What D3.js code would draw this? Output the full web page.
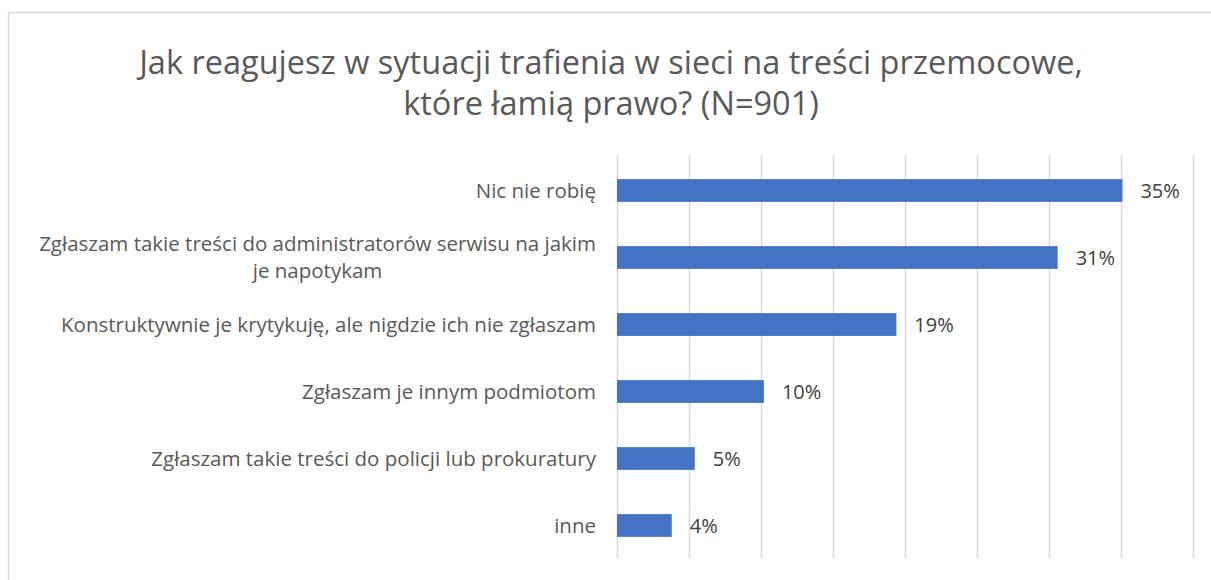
<!DOCTYPE html>
<html>
<head>
<meta charset="utf-8">
<script src="https://cdn.jsdelivr.net/npm/d3@7"></script>
<style>
  body { margin: 0; background: #fff; }
  text { font-family: "Open Sans", sans-serif; }
</style>
</head>
<body>
<div id="chart"></div>
<script>
var categories = [
    "Nic nie robię",
    "Zgłaszam takie treści do administratorów serwisu na jakim|je napotykam",
    "Konstruktywnie je krytykuję, ale nigdzie ich nie zgłaszam",
    "Zgłaszam je innym podmiotom",
    "Zgłaszam takie treści do policji lub prokuratury",
    "inne"
];
var values = [0.351, 0.306, 0.194, 0.102, 0.054, 0.038];
var tickValues = [0, 0.05, 0.10, 0.15, 0.20, 0.25, 0.30, 0.35, 0.40];
var titleLines = ["Jak reagujesz w sytuacji trafienia w sieci na treści przemocowe,", "które łamią prawo? (N=901)"];

var width = 1211, height = 580;

var svg = d3.select("#chart").append("svg")
    .attr("width", width)
    .attr("height", height);

// chart frame
svg.append("rect")
    .attr("x", 8.5).attr("y", 12.5)
    .attr("width", width + 10).attr("height", height + 10)
    .attr("fill", "#fff")
    .attr("stroke", "#d9d9d9")
    .attr("stroke-width", 1.5);

svg.selectAll(".title")
    .data(titleLines)
    .enter().append("text")
    .attr("class", "title")
    .attr("x", 611)
    .attr("y", function(d, i) { return 74 + i * 41; })
    .attr("text-anchor", "middle")
    .attr("fill", "#595959")
    .style("font-size", "32.5px")
    .text(function(d) { return d; });

var x = d3.scaleLinear()
    .domain([0, 0.40])
    .range([617, 1193]);

var y = d3.scaleBand()
    .domain(categories)
    .range([157, 559])
    .paddingInner(0.66)
    .paddingOuter(0.33);

// vertical gridlines
svg.append("g")
    .attr("class", "grid")
    .attr("transform", "translate(0,155)")
    .call(d3.axisBottom(x).tickValues(tickValues).tickSize(403).tickFormat(""))
    .call(function(g) { g.select(".domain").remove(); })
    .selectAll("line")
    .attr("stroke", "#d9d9d9")
    .attr("stroke-width", 1.5);

svg.selectAll(".bar")
    .data(values)
    .enter().append("rect")
    .attr("class", "bar")
    .attr("x", x(0))
    .attr("y", function(d, i) { return y(categories[i]); })
    .attr("width", function(d) { return x(d) - x(0); })
    .attr("height", y.bandwidth())
    .attr("fill", "#4472c4");

svg.selectAll(".value")
    .data(values)
    .enter().append("text")
    .attr("class", "value")
    .attr("x", function(d) { return x(d) + 18; })
    .attr("y", function(d, i) { return y(categories[i]) + y.bandwidth() / 2 + 7; })
    .attr("fill", "#404040")
    .style("font-size", "20px")
    .text(function(d) { return Math.round(d * 100) + "%"; });

// category labels, wrapped ones are centred inside a right-aligned block
var labels = svg.selectAll(".cat")
    .data(categories)
    .enter().append("text")
    .attr("class", "cat")
    .attr("fill", "#595959")
    .style("font-size", "20.5px");

labels.each(function(d) {
    var t = d3.select(this);
    var lines = d.split("|");
    var cy = y(d) + y.bandwidth() / 2;
    var lineH = 27;
    var top = cy - (lines.length - 1) * lineH / 2 + 7;
    lines.forEach(function(line, i) {
        t.append("tspan")
            .attr("y", top + i * lineH)
            .text(line);
    });
    var maxW = 0;
    t.selectAll("tspan").each(function() { maxW = Math.max(maxW, this.getComputedTextLength()); });
    var right = 596;
    t.selectAll("tspan")
        .attr("x", lines.length > 1 ? right - maxW / 2 : right)
        .attr("text-anchor", lines.length > 1 ? "middle" : "end");
});
</script>
</body>
</html>
